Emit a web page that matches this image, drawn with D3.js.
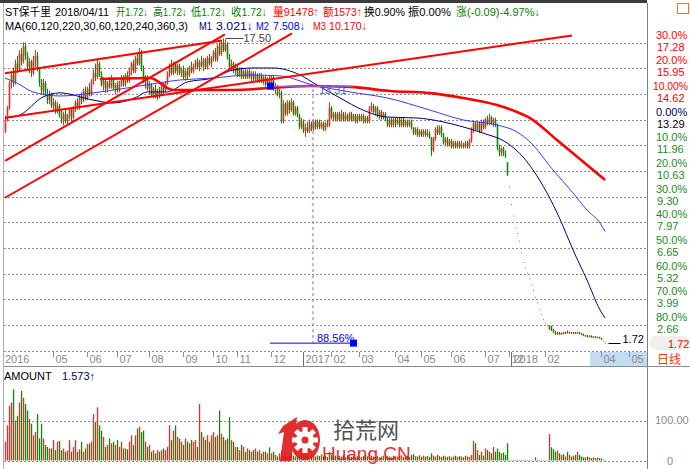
<!DOCTYPE html>
<html><head><meta charset="utf-8">
<script src="https://cdn.jsdelivr.net/npm/d3@7/dist/d3.min.js"></script>
<style>body{margin:0;background:#fff;}svg{display:block;font-family:"Liberation Sans",Arial,"Noto Sans CJK SC",sans-serif;}</style>
</head><body><svg id="c" width="690" height="469"></svg>
<script>
// ---------------- DATA ----------------
// daily candles [open, high, low, close]
const ohlc2016 = [
[12.7,13.5,12.6,13.3],[13.3,14.0,13.2,13.9],[13.9,15.3,13.8,15.2],[15.2,15.8,14.9,15.6],[15.6,16.0,15.0,15.2],
[15.2,16.4,15.1,16.2],[16.2,16.6,15.7,15.9],[15.9,16.9,15.8,16.7],[16.7,17.0,16.1,16.3],[16.3,17.3,16.2,17.1],
[17.1,17.3,16.4,16.6],[16.6,16.8,15.9,16.0],[16.0,16.5,15.7,16.3],[16.3,16.4,15.5,15.7],[15.7,16.6,15.6,16.4],
[16.4,16.9,16.0,16.6],[16.6,16.8,15.8,15.9],[15.9,16.0,15.0,15.2],[15.2,15.4,14.6,14.8],[14.8,15.4,14.6,15.2],
[15.2,15.3,14.5,14.6],[14.6,14.9,14.1,14.3],[14.3,14.8,14.1,14.6],[14.6,14.7,13.9,14.0],[14.0,14.4,13.8,14.2],
[14.2,14.3,13.6,13.7],[13.7,14.2,13.6,14.0],[14.0,14.1,13.4,13.5],[13.5,13.8,13.1,13.3],[13.3,13.7,13.0,13.6],
[13.6,13.8,13.1,13.2],[13.2,13.6,13.0,13.5],[13.5,13.9,13.3,13.8],[13.8,13.9,13.2,13.4],[13.4,14.0,13.3,13.9],
[13.9,14.3,13.7,14.2],[14.2,14.4,13.8,13.9],[13.9,14.6,13.8,14.5],[14.5,14.7,14.1,14.3],[14.3,14.9,14.2,14.8],
[14.8,15.0,14.3,14.4],[14.4,15.0,14.3,14.9],[14.9,15.2,14.5,14.6],[14.6,15.4,14.5,15.3],[15.3,15.9,15.1,15.7],
[15.7,16.2,15.3,15.5],[15.5,16.4,15.4,16.2],[16.2,16.3,15.5,15.6],[15.6,15.8,15.0,15.1],[15.1,15.5,14.8,15.3],
[15.3,15.4,14.7,14.9],[14.9,15.3,14.7,15.2],[15.2,15.5,14.9,15.0],[15.0,15.6,14.9,15.4],[15.4,15.5,14.8,14.9],
[14.9,15.2,14.6,15.1],[15.1,15.3,14.7,14.8],[14.8,15.3,14.7,15.2],[15.2,15.6,15.0,15.5],[15.5,15.6,15.0,15.1],
[15.1,15.7,15.0,15.6],[15.6,15.8,15.2,15.3],[15.3,16.0,15.2,15.9],[15.9,16.3,15.6,16.2],[16.2,16.4,15.7,15.8],
[15.8,16.6,15.7,16.5],[16.5,16.8,16.1,16.2],[16.2,17.0,16.1,16.8],[16.8,16.9,15.8,15.9],[15.9,16.1,15.2,15.3],
[15.3,15.6,14.9,15.5],[15.5,15.6,14.8,14.9],[14.9,15.3,14.6,15.1],[15.1,15.2,14.5,14.6],[14.6,15.0,14.4,14.9],
[14.9,15.1,14.4,14.5],[14.5,14.9,14.3,14.8],[14.8,15.0,14.4,14.6],[14.6,15.1,14.5,15.0],[15.0,15.2,14.6,14.8],
[14.8,15.3,14.7,15.2],[15.2,15.8,15.1,15.7],[15.7,16.2,15.5,16.0],[16.0,16.4,15.6,15.7],[15.7,16.3,15.6,16.2],
[16.2,16.3,15.7,15.8],[15.8,16.2,15.6,16.1],[16.1,16.2,15.6,15.7],[15.7,16.0,15.5,15.9],[15.9,16.1,15.4,15.5],
[15.5,15.9,15.3,15.8],[15.8,16.0,15.4,15.6],[15.6,16.1,15.5,16.0],[16.0,16.3,15.7,15.8],[15.8,16.2,15.7,16.1],
[16.1,16.4,15.9,16.3],[16.3,16.5,15.9,16.0],[16.0,16.4,15.8,16.3],[16.3,16.6,16.0,16.1],[16.1,16.5,15.8,16.4],
[16.4,16.5,15.9,16.0],[16.0,16.6,15.9,16.5],[16.5,16.7,16.1,16.2],[16.2,16.6,16.0,16.5],[16.5,16.9,16.3,16.8],
[16.8,17.0,16.3,16.4],[16.4,17.2,16.3,17.1],[17.1,17.3,16.6,16.7],[16.7,17.4,16.6,17.3],[17.3,17.5,16.8,16.9],
[16.9,17.45,16.8,17.2],[17.2,17.3,16.4,16.5],[16.5,16.7,15.9,16.0],[16.0,16.4,15.8,16.2],[16.2,16.3,15.7,15.8],
[15.8,16.2,15.6,16.0],[16.0,16.1,15.5,15.6],[15.6,16.0,15.5,15.9],[15.9,16.0,15.4,15.5],[15.5,15.9,15.4,15.8],
[15.8,15.9,15.4,15.5],[15.5,15.9,15.4,15.8],[15.8,15.9,15.4,15.5],[15.5,15.8,15.3,15.7],[15.7,15.8,15.3,15.4],
[15.4,15.8,15.3,15.6],[15.6,15.7,15.2,15.3],[15.3,15.7,15.2,15.6],[15.6,15.7,15.2,15.3],[15.3,15.6,15.1,15.5],
[15.5,15.6,15.0,15.1],[15.1,15.5,14.9,15.4],[15.4,15.6,14.9,15.0],[15.0,15.6,14.9,15.5],[15.5,15.6,14.8,14.9],
[14.9,15.2,14.6,15.0],[15.0,15.1,14.5,14.6],[14.6,14.9,14.4,14.7],[14.7,14.8,13.1,13.2],[13.2,14.3,13.1,14.1],
[14.1,14.2,13.5,13.6],[13.6,14.3,13.5,14.2],[14.2,14.3,13.6,13.8],[13.8,14.4,13.7,14.2],[14.2,14.3,13.5,13.6],
[13.6,14.0,13.5,13.9],[13.9,14.0,13.4,13.5],[13.5,13.6,12.8,12.9],[12.9,13.4,12.8,13.2],[13.2,13.3,12.6,12.7]
];
const ohlc2017 = [
[12.7,13.1,12.4,12.9],[12.9,13.2,12.6,12.7],[12.7,13.3,12.6,13.1],[13.1,13.2,12.7,12.8],[12.8,13.3,12.7,13.2],
[13.2,13.3,12.8,12.9],[12.9,13.3,12.8,13.2],[13.2,13.3,12.8,12.9],[12.9,13.2,12.8,13.1],[13.1,13.2,12.7,12.8],
[12.8,13.2,12.7,13.1],[13.1,13.3,12.9,13.0],[13.0,14.2,12.9,13.9],[13.9,14.0,13.3,13.4],[13.4,13.7,13.2,13.6],
[13.6,13.7,13.2,13.3],[13.3,13.7,13.2,13.6],[13.6,13.7,13.2,13.3],[13.3,13.8,13.2,13.6],[13.6,13.7,13.2,13.3],
[13.3,13.7,13.2,13.5],[13.5,13.6,13.2,13.3],[13.3,13.7,13.2,13.6],[13.6,13.7,13.2,13.3],[13.3,13.6,13.2,13.5],
[13.5,13.6,13.1,13.2],[13.2,13.6,13.1,13.5],[13.5,13.6,13.2,13.3],[13.3,13.6,13.2,13.5],[13.5,13.6,13.1,13.2],
[13.2,13.5,13.1,13.4],[13.4,13.5,13.1,13.2],[13.2,14.0,13.1,13.9],[13.9,14.2,13.7,14.0],[14.0,14.1,13.6,13.7],
[13.7,14.0,13.5,13.9],[13.9,14.0,13.4,13.5],[13.5,13.8,13.3,13.7],[13.7,13.8,13.3,13.4],[13.4,13.7,13.3,13.6],
[13.6,13.7,13.2,13.3],[13.3,13.4,12.9,13.0],[13.0,13.4,12.9,13.3],[13.3,13.4,12.9,13.0],[13.0,13.4,12.9,13.3],
[13.3,13.4,12.9,13.1],[13.1,13.4,13.0,13.3],[13.3,13.4,12.9,13.0],[13.0,13.4,12.9,13.3],[13.3,13.4,12.9,13.0],
[13.0,13.3,12.9,13.2],[13.2,13.3,12.9,13.0],[13.0,13.3,12.9,13.2],[13.2,13.3,12.8,12.9],[12.9,12.9,12.5,12.6],
[12.6,12.9,12.5,12.8],[12.8,12.9,12.4,12.5],[12.5,12.8,12.4,12.7],[12.7,12.8,12.4,12.5],[12.5,12.8,12.4,12.7],
[12.7,12.8,12.4,12.5],[12.5,12.8,12.4,12.6],[12.6,12.7,12.3,12.4],[12.4,12.4,11.4,11.7],[11.7,12.4,11.6,12.3],
[12.3,12.9,12.2,12.8],[12.8,13.0,12.5,12.6],[12.6,13.0,12.5,12.9],[12.9,13.0,12.4,12.5],[12.5,12.6,12.0,12.1],
[12.1,12.4,11.9,12.3],[12.3,12.4,11.9,12.0],[12.0,12.3,11.9,12.2],[12.2,12.3,11.8,11.9],[11.9,12.2,11.8,12.1],
[12.1,12.2,11.8,11.9],[11.9,12.2,11.8,12.1],[12.1,12.2,11.8,11.9],[11.9,12.2,11.8,12.0],[12.0,12.1,11.8,11.9],
[11.9,12.2,11.8,12.1],[12.1,12.2,11.8,11.9],[11.9,12.3,11.8,12.2],[12.2,12.9,12.1,12.8],[12.8,13.2,12.6,13.1],
[13.1,13.2,12.7,12.8],[12.8,13.2,12.7,13.1],[13.1,13.2,12.6,12.7],[12.7,13.3,12.6,13.2],[13.2,13.3,12.8,12.9],
[12.9,13.4,12.8,13.3],[13.3,13.5,13.0,13.1],[13.1,13.6,13.0,13.4],[13.4,13.5,13.0,13.1],[13.1,13.4,12.9,13.3],
[13.3,13.4,12.9,13.0],[13.0,13.1,11.7,11.8],[11.8,12.0,11.4,11.6],[11.6,11.9,11.4,11.8],[11.8,11.9,11.4,11.5],
[11.5,11.7,11.3,11.4],[11.1,11.1,10.4,10.4]
];
// one-price limit-down days after resumption (open = high = low = close)
const limitDownCloses = [9.8,8.9,8.3,7.7,7.4,7.0,6.4,5.9,5.6,5.35,5.05,4.75,4.45,4.1,3.8,3.45,3.2,2.95,2.76,2.62];
const ohlc2018 = [
[2.45,2.65,2.40,2.60],[2.60,2.62,2.35,2.40],[2.40,2.45,2.25,2.30],[2.30,2.35,2.15,2.20],[2.20,2.30,2.15,2.25],
[2.25,2.30,2.15,2.18],[2.18,2.28,2.15,2.25],[2.25,2.30,2.18,2.22],[2.22,2.32,2.20,2.30],[2.30,2.38,2.22,2.25],
[2.25,2.32,2.20,2.28],[2.28,2.30,2.20,2.22],[2.22,2.30,2.18,2.27],[2.27,2.30,2.20,2.22],[2.22,2.30,2.20,2.28],
[2.28,2.30,2.18,2.20],[2.20,2.25,2.15,2.18],[2.18,2.22,2.08,2.10],[2.10,2.15,2.05,2.12],[2.12,2.14,2.02,2.05],
[2.05,2.12,2.02,2.10],[2.10,2.12,2.00,2.02],[2.02,2.08,1.98,2.06],[2.06,2.08,1.98,2.00],[2.00,2.06,1.97,2.04],
[2.04,2.05,1.96,1.98],[1.98,2.00,1.90,1.91],[1.81,1.81,1.81,1.81],[1.72,1.72,1.72,1.72]
];
// AMOUNT (turnover) per day
const amount2016 = [47,88,137,145,178,100,112,145,174,157,141,125,104,92,63,71,116,55,92,55,
39,34,30,30,51,26,47,49,26,30,22,25,51,22,34,51,22,28,47,22,
30,41,43,47,116,96,133,88,75,59,34,39,55,43,47,39,51,34,47,30,
30,28,47,63,39,63,80,85,71,75,47,34,39,22,26,18,26,22,26,30,
26,34,88,51,75,88,59,55,47,39,55,47,43,51,47,51,34,141,71,59,
51,63,47,63,71,59,63,125,67,59,51,55,108,51,47,34,34,26,39,34,
22,30,26,22,26,30,22,26,18,22,22,18,33,18,22,14,10,18,24,12,
16,10,14,18,12,10,15,12,20,14];
const amount2017 = [16,12,10,14,12,10,13,11,15,10,12,9,22,14,10,12,9,11,10,13,8,
12,10,9,11,8,12,10,9,11,14,10,18,12,10,9,11,8,10,12,9,11,10,8,12,9,10,11,13,9,
10,12,9,14,16,11,10,13,9,12,10,11,9,18,12,10,14,11,9,12,10,9,11,8,10,12,9,11,10,8,12,10,9,14,
49,43,26,14,22,12,30,26,22,18,34,22,30,22,18,20,14,43];
const amount2018 = [1,1,1,1,1,1,1,1,1,1,1,1,1,8,1,1,1,1,1,1,
66,33,28,22,25,18,14,16,10,22,14,10,12,14,22,14,10,8,8,10,8,6,8,6,7,6,5,2,1];
// moving averages: [day index, price]
const ma60 = [[0,13.38],[7.5,13.54],[19,14.47],[27.5,14.68],[44,14.31],[54,14.16],[66,14.47],[71,14.73],[81,14.73],[91,15.24],[104,15.45],[114,15.87],[124,15.97],[134,15.97],[147.5,15.61],[156,15.09],[167.5,14.42],[179,13.79],[191,13.43],[206,13.38],[219,13.18],[229,12.92],[239,12.60],[251,12.09],[259,11.36],[264,10.69],[271,9.50],[277.5,8.14],[284,6.55],[291,4.99],[297.5,3.44],[300,3.021]];
const ma120 = [[0,15.45],[6,15.19],[14,14.73],[27.5,14.52],[47.5,14.73],[67.5,15.04],[87.5,15.35],[104,15.45],[122.5,15.61],[137.5,15.56],[154,15.09],[172.5,14.73],[191,14.42],[212.5,13.79],[229,13.28],[246,13.02],[256,12.66],[262.5,12.14],[274,10.69],[284,9.50],[291,8.61],[297.5,7.94],[300,7.508]];
const ma220 = [[47.5,15.40],[72.5,15.45],[84,14.83],[112.5,14.83],[152.5,15.04],[172.5,14.99],[192.5,14.78],[212.5,14.67],[229,14.42],[246,14.05],[256,13.69],[262.5,13.38],[276,12.24],[300,10.17]];
// hand-drawn trend lines: [start index, start price, end index, end price]
const trendLines = [[0,15.70,108.5,17.39],[0,13.39,283.5,17.65],[0,11.16,110,17.71],[0,9.25,143.5,17.76]];
// measurement drawing: [left index, right index, vertical index, top price, bottom price]
const measure = [132.5,174,154,15.03,1.72];
// axes
const priceTicks = [17.28,15.95,14.62,13.29,11.96,10.63,9.30,7.97,6.65,5.32,3.99,2.66];
const pctLabels = ["30.0%","20.0%","10.00%","0.00%","10.0%","20.0%","30.0%","40.0%","50.0%","60.0%","70.0%","80.0%"];
const dateTickIdx = [0,24,41,56,72,89,104,116,133,149,163,177,195,208,223,240,252,253,270,298,312];
const dateTickLabels = ["2016","05","06","07","08","09","10","11","12","2017","02","03","04","05","06","07","12","2018","02","04","05"];
const header1 = ["ST保千里","2018/04/11","开1.72↓","高1.72↓","低1.72↓","收1.72↓","量91478↑","额1573↑","换0.90%","振0.00%","涨(-0.09)-4.97%↓"];
const header2 = ["MA(60,120,220,30,60,120,240,360,3)","M1","3.021↓","M2","7.508↓","M3","10.170↓"];

// ---------------- DRAW ----------------
const svg = d3.select("#c");
const x = d3.scaleLinear().domain([0,300]).range([5,605]);
const y = d3.scaleLinear().domain([2.66,17.28]).range([325,42.7]);
const vy = d3.scaleLinear().domain([0,100]).range([460.5,420.5]);
const UP = "#f02828", DN = "#0a8a0a";

svg.append("rect").attr("width",690).attr("height",469).attr("fill","#fff");
const defs = svg.append("defs");
defs.append("clipPath").attr("id","cm").append("rect").attr("x",4).attr("y",4).attr("width",643).attr("height",347);

svg.append("rect").attr("x",0).attr("y",0).attr("width",647).attr("height",3).attr("fill","#3c3c3c");
svg.append("line").attr("x1",3.5).attr("x2",3.5).attr("y1",3).attr("y2",469).attr("stroke","#b0b0b0");

// grid
const grid = svg.append("g").attr("stroke","#8c8c8c").attr("stroke-dasharray","2,2").attr("stroke-width",1);
grid.selectAll("line").data(priceTicks).join("line")
  .attr("x1",4).attr("x2",647)
  .attr("y1",d=>Math.round(y(d))+0.5).attr("y2",d=>Math.round(y(d))+0.5);
[100,0].forEach(v=>grid.append("line").attr("x1",4).attr("x2",647).attr("y1",Math.round(vy(v))+0.5).attr("y2",Math.round(vy(v))+0.5));

// candles
const rows = [...ohlc2016, ...ohlc2017, ...limitDownCloses.map(v=>[v,v,v,v]), ...ohlc2018];
const amounts = [...amount2016, ...amount2017, ...amount2018];
const candles = rows.map((d,i)=>({i,o:d[0],h:d[1],l:d[2],c:d[3],v:amounts[i]}));
candles.forEach((d,k)=>{
  const prev = k>0 ? candles[k-1].c : d.o;
  d.flat = d.h===d.l;
  d.up = d.flat ? d.c>=prev : d.c>=d.o;
});
const px = d => Math.round(x(d.i))+0.5;
const gC = svg.append("g").attr("clip-path","url(#cm)");
const solid = candles.filter(d=>!d.flat);
gC.selectAll("line.w").data(solid).join("line").attr("class","w")
  .attr("x1",px).attr("x2",px).attr("y1",d=>y(d.h)).attr("y2",d=>y(d.l))
  .attr("stroke",d=>d.up?UP:DN).attr("stroke-width",1);
gC.selectAll("rect.b").data(solid).join("rect").attr("class","b")
  .attr("x",d=>px(d)-0.8).attr("width",1.6)
  .attr("y",d=>y(Math.max(d.o,d.c)))
  .attr("height",d=>Math.max(0.8,y(Math.min(d.o,d.c))-y(Math.max(d.o,d.c))))
  .attr("fill",d=>d.up?UP:DN);
gC.selectAll("rect.f").data(candles.filter(d=>d.flat)).join("rect").attr("class","f")
  .attr("x",d=>px(d)-0.5).attr("y",d=>y(d.c)-0.5).attr("width",1).attr("height",1)
  .attr("fill","#4caf4c");

// volume
svg.append("g").selectAll("rect").data(candles).join("rect")
  .attr("x",d=>px(d)-0.6).attr("width",1.3)
  .attr("y",d=>vy(d.v)).attr("height",d=>vy(0)-vy(d.v))
  .attr("fill",d=>d.up?UP:DN);

// MAs
const line = d3.line().x(d=>x(d[0])).y(d=>y(d[1])).curve(d3.curveMonotoneX);
const gL = svg.append("g").attr("clip-path","url(#cm)").attr("fill","none");
gL.append("path").attr("d",line(ma60)).attr("stroke","#000080").attr("stroke-width",1);
gL.append("path").attr("d",line(ma120)).attr("stroke","#3a3aff").attr("stroke-width",1);
gL.append("path").attr("d",line(ma220)).attr("stroke","#ff0000").attr("stroke-width",2.6);
gL.selectAll("line.t").data(trendLines).join("line").attr("class","t")
  .attr("x1",d=>x(d[0])).attr("y1",d=>y(d[1])).attr("x2",d=>x(d[2])).attr("y2",d=>y(d[3]))
  .attr("stroke","#ff0000").attr("stroke-width",2);

// high / low markers
const hi = candles.reduce((a,b)=>b.h>a.h?b:a);
gL.append("line").attr("x1",px(hi)+2).attr("x2",px(hi)+20).attr("y1",y(hi.h)).attr("y2",y(hi.h)).attr("stroke","#444");
svg.append("text").attr("x",px(hi)+20).attr("y",y(hi.h)+4).attr("font-size",11).attr("fill","#444").text(hi.h.toFixed(2));
const last = candles[candles.length-1];
svg.append("line").attr("x1",px(last)+3).attr("x2",px(last)+15).attr("y1",Math.round(y(last.c))+0.5).attr("y2",Math.round(y(last.c))+0.5).attr("stroke","#000");
svg.append("text").attr("x",px(last)+17).attr("y",y(last.c)).attr("font-size",11).attr("fill","#000").text(last.c.toFixed(2));

// measurement drawing
const [mi1,mi2,miv,mTop,mBot] = measure;
gL.append("line").attr("x1",x(mi1)).attr("x2",x(mi2)).attr("y1",y(mTop)).attr("y2",y(mTop)).attr("stroke","#8888ff");
gL.append("line").attr("x1",x(miv)).attr("x2",x(miv)).attr("y1",y(mTop)+3).attr("y2",y(mBot)).attr("stroke","#6a6aff").attr("stroke-dasharray","3,3");
svg.append("line").attr("x1",x(mi1)).attr("x2",x(mi2)).attr("y1",y(mBot)).attr("y2",y(mBot)).attr("stroke","#0000ff");
svg.append("rect").attr("x",x(mi1)-3).attr("y",y(mTop)-3.5).attr("width",7).attr("height",7).attr("fill","#0000ff");
svg.append("rect").attr("x",x(mi2)-3).attr("y",y(mBot)-3.5).attr("width",7).attr("height",7).attr("fill","#0000ff");
svg.append("text").attr("x",x(miv)+6).attr("y",y(mTop)+8).attr("font-size",11).attr("fill","#5a5aff").text((mTop-mBot).toFixed(2));
svg.append("text").attr("x",x(miv)+4).attr("y",y(mBot)-1).attr("font-size",11).attr("fill","#0000ff").text(((mTop-mBot)/mTop*100).toFixed(2)+"%");

// right axis
svg.append("line").attr("x1",647.5).attr("x2",647.5).attr("y1",3).attr("y2",469).attr("stroke","#808080");
const pctCol = i => i<3 ? "#ff0000" : i===3 ? "#000060" : "#1a8a1a";
const numCol = i => i<3 ? "#ff0000" : i===3 ? "#000" : "#1a8a1a";
svg.append("g").selectAll("text").data(priceTicks).join("text")
  .attr("x",(d,i)=>pctLabels[i].length>5?653:656).attr("y",d=>y(d)-4).attr("font-size",11)
  .attr("fill",(d,i)=>pctCol(i)).text((d,i)=>pctLabels[i])
  .each(function(d,i){ if(pctLabels[i].length>5) d3.select(this).attr("textLength",35).attr("lengthAdjust","spacingAndGlyphs"); });
svg.append("g").selectAll("text").data(priceTicks).join("text")
  .attr("x",657).attr("y",d=>y(d)+8).attr("font-size",11).attr("fill",(d,i)=>numCol(i)).text(d=>d.toFixed(2));
svg.append("rect").attr("x",650).attr("y",336).attr("width",40).attr("height",14).attr("rx",6).attr("fill","#eef0ea");
svg.append("text").attr("x",668).attr("y",347.5).attr("font-size",11).attr("fill","#ff0000").text(last.c.toFixed(2));
svg.append("rect").attr("x",677.5).attr("y",3.5).attr("width",11).attr("height",10).attr("fill","none").attr("stroke","#ff7020");

// date axis
svg.append("rect").attr("x",590).attr("y",352).attr("width",57).attr("height",14).attr("fill","#c4dcf2");
svg.append("line").attr("x1",4).attr("x2",647).attr("y1",351.5).attr("y2",351.5).attr("stroke","#8c8c8c").attr("stroke-dasharray","2,2");
svg.append("line").attr("x1",4).attr("x2",690).attr("y1",366.5).attr("y2",366.5).attr("stroke","#8c8c8c");
const gx = svg.append("g");
dateTickLabels.forEach((lab,k)=>{
  const xx = Math.round(x(dateTickIdx[k]))+0.5;
  const year = lab.length===4;
  if(k>0) gx.append("line").attr("x1",xx).attr("x2",xx).attr("y1",352).attr("y2",year?366:357).attr("stroke",year?"#707070":"#8c8c8c");
  gx.append("text").attr("x",k===0?5:xx+2).attr("y",363).attr("font-size",11).attr("fill","#8a8a8a").text(lab);
});
svg.append("text").attr("x",657).attr("y",364).attr("font-size",12).attr("fill","#ff3300").text("日线");

// volume labels
svg.append("text").attr("x",4).attr("y",380).attr("font-size",11).attr("fill","#000").text("AMOUNT");
svg.append("text").attr("x",62).attr("y",380).attr("font-size",11).attr("fill","#000080").text("1.573↑");
svg.append("text").attr("x",655).attr("y",424).attr("font-size",11).attr("fill","#8a8a8a").text("100.00");
svg.append("text").attr("x",667).attr("y",465).attr("font-size",11).attr("fill","#8a8a8a").text("0");

// header (x positions and widths are layout)
const h1x = [5,55,116,153,191,231,273,323,364,408,456];
const h1w = [46,54,32,34,35,36,46,39,41,43,84];
const h1c = ["#000","#000","#008000","#008000","#008000","#008000","#ff0000","#ff0000","#000","#000","#008000"];
header1.forEach((t,k)=>svg.append("text").attr("x",h1x[k]).attr("y",16).attr("font-size",11.5)
  .attr("textLength",h1w[k]).attr("lengthAdjust","spacingAndGlyphs").attr("fill",h1c[k]).text(t));
const h2x = [5,199,216,256,273,313,329];
const h2w = [183,13,37,13,32,13,38];
const h2c = ["#000","#000080","#000080","#0000ff","#0000ff","#ff0000","#ff0000"];
header2.forEach((t,k)=>svg.append("text").attr("x",h2x[k]).attr("y",30).attr("font-size",11.5)
  .attr("textLength",h2w[k]).attr("lengthAdjust","spacingAndGlyphs").attr("fill",h2c[k]).text(t));

// watermark
const wm = svg.append("g").attr("opacity",0.92);
wm.append("path").attr("d","M283,426 L297,417 L291,461 L280,461 L284,432 L278,434 Z").attr("fill","#e01c1c");
wm.append("ellipse").attr("cx",305).attr("cy",440).attr("rx",15).attr("ry",20).attr("fill","#e01c1c");
for(let a=0;a<8;a++){
  wm.append("rect").attr("x",302.5).attr("y",427).attr("width",5).attr("height",6).attr("fill","#fff")
    .attr("transform",`rotate(${a*45},305,440)`);
}
wm.append("circle").attr("cx",305).attr("cy",440).attr("r",9).attr("fill","#fff");
wm.append("circle").attr("cx",305).attr("cy",440).attr("r",3.5).attr("fill","#e01c1c");
wm.append("text").attr("x",333).attr("y",438).attr("font-size",22).attr("fill","#444").attr("font-family","Noto Sans CJK SC").text("拾荒网");
wm.append("text").attr("x",322).attr("y",460).attr("font-size",19).attr("fill","#e01c1c").text("Huang.CN");
</script></body></html>
